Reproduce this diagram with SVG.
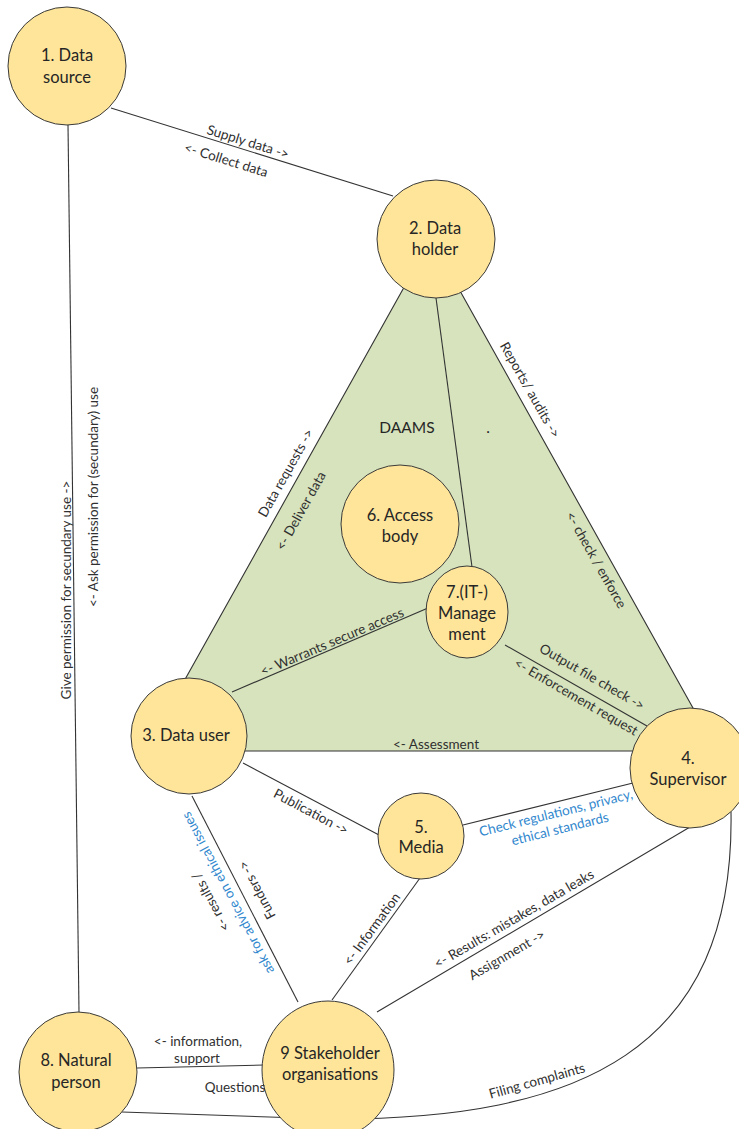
<svg xmlns="http://www.w3.org/2000/svg" width="739" height="1129" viewBox="0 0 739 1129">
<style>
.node{fill:#fee599;stroke:#3a3a3a;stroke-width:1}
.nt{font-family:Lato,"Liberation Sans",sans-serif;font-size:16.5px;fill:#262626;text-anchor:middle}
.lbl{font-family:Lato,"Liberation Sans",sans-serif;font-size:13.5px;fill:#303030;text-anchor:middle}
.blue{fill:#3288ce}
.ln{stroke:#333;stroke-width:1.1;fill:none}
</style>
<rect width="739" height="1129" fill="#ffffff"/>
<g id="daams">
<polygon points="431,239 145,751 717,751" fill="#d6e3bc" stroke="#333" stroke-width="1.1"/>
<text class="nt" x="407" y="433" style="font-size:15.5px">DAAMS</text>
<text class="nt" x="488" y="433" style="font-size:15.5px">.</text>
</g>
<g id="connectors">
<line class="ln" x1="111" y1="108" x2="393" y2="196"/>
<line class="ln" x1="68" y1="125" x2="79" y2="1012"/>
<line class="ln" x1="436" y1="298" x2="472" y2="567"/>
<line class="ln" x1="232" y1="692" x2="428" y2="608"/>
<line class="ln" x1="505" y1="645" x2="647" y2="726"/>
<line class="ln" x1="243" y1="763" x2="379" y2="835"/>
<line class="ln" x1="463" y1="825" x2="633" y2="783"/>
<line class="ln" x1="192" y1="796" x2="298" y2="1002"/>
<line class="ln" x1="420" y1="878" x2="332" y2="1000"/>
<line class="ln" x1="690" y1="827" x2="377" y2="1012"/>
<line class="ln" x1="137" y1="1068" x2="264" y2="1065"/>
<path class="ln" d="M122,1112 L330,1119 C580,1120 735,1050 731,812"/>
</g>
<g id="node1"><circle class="node" cx="67" cy="66" r="59"/><text class="nt" x="67" y="61">1. Data</text><text class="nt" x="67" y="83">source</text></g>
<g id="node2"><circle class="node" cx="436" cy="239" r="59"/><text class="nt" x="435" y="234">2. Data</text><text class="nt" x="435" y="255">holder</text></g>
<g id="node6"><circle class="node" cx="400" cy="524" r="59"/><text class="nt" x="400" y="521">6. Access</text><text class="nt" x="400" y="542">body</text></g>
<g id="node7"><ellipse class="node" cx="467" cy="612" rx="41" ry="46"/><text class="nt" x="467" y="598">7.(IT-)</text><text class="nt" x="467" y="619">Manage</text><text class="nt" x="467" y="640">ment</text></g>
<g id="node3"><circle class="node" cx="189" cy="736" r="58"/><text class="nt" x="186" y="741">3. Data user</text></g>
<g id="node4"><circle class="node" cx="690" cy="768" r="60"/><text class="nt" x="688" y="764">4.</text><text class="nt" x="688" y="785">Supervisor</text></g>
<g id="node5"><circle class="node" cx="421" cy="836" r="43"/><text class="nt" x="421" y="833">5.</text><text class="nt" x="421" y="853">Media</text></g>
<g id="node8"><ellipse class="node" cx="78" cy="1072" rx="59" ry="60"/><text class="nt" x="76" y="1066">8. Natural</text><text class="nt" x="76" y="1088">person</text></g>
<g id="node9"><ellipse class="node" cx="328" cy="1070" rx="66" ry="69"/><text class="nt" x="330" y="1059">9 Stakeholder</text><text class="nt" x="330" y="1080">organisations</text></g>
<g id="labels">
<text class="lbl" transform="translate(248,142) rotate(17.3)" y="4.5">Supply data -&gt;</text>
<text class="lbl" transform="translate(226,160) rotate(17.3)" y="4.5">&lt;- Collect data</text>
<text class="lbl" transform="translate(286,473) rotate(-60.7)" y="4.5">Data requests -&gt;</text>
<text class="lbl" transform="translate(301,511) rotate(-60.7)" y="4.5">&lt;- Deliver data</text>
<text class="lbl" transform="translate(530,390) rotate(60.5)" y="4.5">Reports/ audits -&gt;</text>
<text class="lbl" transform="translate(596,560) rotate(60.5)" y="4.5">&lt;- check / enforce</text>
<text class="lbl" transform="translate(332,642) rotate(-23)" y="4.5">&lt;- Warrants secure access</text>
<text class="lbl" transform="translate(592,677) rotate(30)" y="4.5">Output file check -&gt;</text>
<text class="lbl" transform="translate(576,697) rotate(30)" y="4.5">&lt;- Enforcement request</text>
<text class="lbl" x="436" y="748.5">&lt;- Assessment</text>
<text class="lbl" transform="translate(311,812) rotate(28)" y="4.5">Publication -&gt;</text>
<text class="lbl blue" transform="translate(556,813) rotate(-14)" y="4.5">Check regulations, privacy,</text>
<text class="lbl blue" transform="translate(560,829) rotate(-14)" y="4.5">ethical standards</text>
<text class="lbl" transform="translate(211,902) rotate(-118)" y="4.5">&lt;- results /</text>
<text class="lbl blue" transform="translate(228,893) rotate(-118)" y="4.5">ask for advice on ethical issues</text>
<text class="lbl" transform="translate(257,890) rotate(-118)" y="4.5">Funders -&gt;</text>
<text class="lbl" transform="translate(372,929) rotate(-53.6)" y="4.5">&lt;- Information</text>
<text class="lbl" transform="translate(514,919) rotate(-30.2)" y="4.5">&lt;- Results: mistakes, data leaks</text>
<text class="lbl" transform="translate(507,955) rotate(-30.2)" y="4.5">Assignment -&gt;</text>
<text class="lbl" x="198" y="1045.5">&lt;- information,</text>
<text class="lbl" x="197" y="1062.5">support</text>
<text class="lbl" x="235" y="1091.5">Questions</text>
<text class="lbl" transform="translate(537,1081) rotate(-15.8)" y="4.5">Filing complaints</text>
<text class="lbl" transform="translate(66,590) rotate(-90)" y="4.5">Give permission for secundary use -&gt;</text>
<text class="lbl" transform="translate(93,497) rotate(-90)" y="4.5">&lt;- Ask permission for (secundary) use</text>
</g>
</svg>
